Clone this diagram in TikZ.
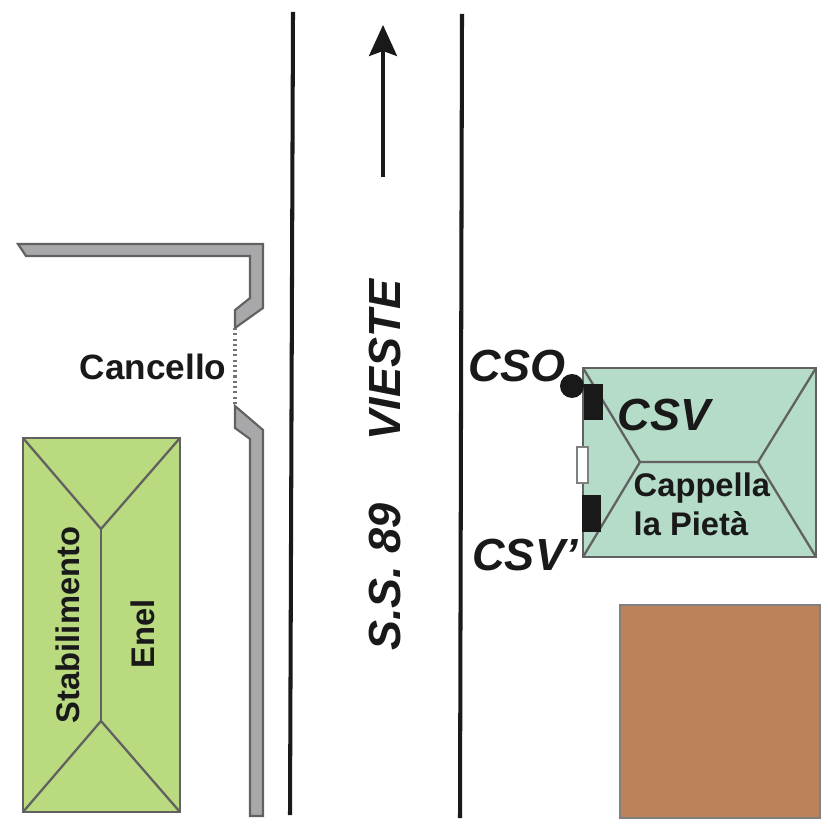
\documentclass[tikz,border=0pt]{standalone}
\usepackage{fontspec}
\usepackage{xcolor}
\setmainfont{Liberation Sans}
\usetikzlibrary{arrows.meta}

\begin{document}
\begin{tikzpicture}[x=0.01cm,y=-0.01cm,
    lbl/.style={font=\fontsize{9.3}{11}\selectfont\bfseries,text=black!90},
    lblbig/.style={font=\fontsize{12.8}{15}\selectfont\bfseries\itshape,text=black!90},
    roof/.style={draw=black!62,line width=0.65pt}]

% Viewport: 828 x 828 units, y axis flipped so the numbers read as in the plan.
\useasboundingbox (0,0) rectangle (828,828);

\definecolor{Cwall}{RGB}{168,168,170}
\definecolor{Cenel}{RGB}{185,218,126}
\definecolor{Ccap}{RGB}{181,220,200}
\definecolor{Cbrick}{RGB}{188,130,90}

% ── Road ─────────────────────────────────────────────────────────────────────
\draw[line width=1.15pt,black!90] (293,12) -- (290,815);
\draw[line width=1.15pt,black!90] (462,14) -- (460,818);

% Direction arrow
\draw[line width=0.9pt,black!90,-{Stealth[length=0.31cm,width=0.28cm,inset=0.05cm]}] (383,177) -- (383,25);

% ── Wall with gate ───────────────────────────────────────────────────────────
\draw[fill=Cwall,draw=black!62,line width=0.6pt]
  (18,244) -- (263,244) -- (263,308) -- (235,328) -- (235,310) -- (250,298)
  -- (250,256) -- (26,256) -- cycle;
\draw[fill=Cwall,draw=black!62,line width=0.6pt]
  (235,406) -- (263,430) -- (263,816) -- (250,816) -- (250,439) -- (235,428) -- cycle;
\draw[black!55,line width=0.9pt,dash pattern=on 0.6pt off 0.9pt] (235,328) -- (235,406);

% ── Stabilimento ─────────────────────────────────────────────────────────────
\draw[fill=Cenel,roof] (23,438) rectangle (180,812);
\draw[roof] (23,438) -- (101,529) -- (180,438);
\draw[roof] (23,812) -- (101,721) -- (180,812);
\draw[roof] (101,529) -- (101,721);

% ── Cappella ─────────────────────────────────────────────────────────────────
\draw[fill=Ccap,roof] (583,368) rectangle (816,557);
\draw[roof] (583,368) -- (640,462) -- (758,462) -- (816,368);
\draw[roof] (583,557) -- (640,462);
\draw[roof] (816,557) -- (758,462);

% Openings and sensors on the west side
\fill[black!90] (584,384) rectangle (603,420);
\fill[black!90] (582,495) rectangle (601,532);
\draw[fill=white,draw=black!50,line width=0.5pt] (577,447) rectangle (588,483);
\fill[black!90] (572,386) circle (12);

% ── Brown building ───────────────────────────────────────────────────────────
\draw[fill=Cbrick,draw=black!50,line width=0.4pt] (620,605) rectangle (820,818);

% ── Labels ───────────────────────────────────────────────────────────────────
\node[lbl,font=\fontsize{10}{12}\selectfont\bfseries] (cancello) at (153,367) {Cancello};
\node[lbl,rotate=90] (stabilimento) at (68,625) {Stabilimento};
\node[lbl,rotate=90] (enel) at (143,634) {Enel};
\node[lbl,align=left,anchor=north west,inner sep=0pt] (cappella) at (633,472)
  {Cappella\\la Pietà};

\node[lblbig,rotate=90] (vieste) at (385,360) {VIESTE};
\node[lblbig,rotate=90] (ss) at (385,577) {S.S. 89};
\node[lblbig] (cso) at (517,366) {CSO};
\node[lblbig] (csv) at (664,415) {CSV};
\node[lblbig] (csvp) at (525,555) {CSV’};

\end{tikzpicture}
\end{document}
